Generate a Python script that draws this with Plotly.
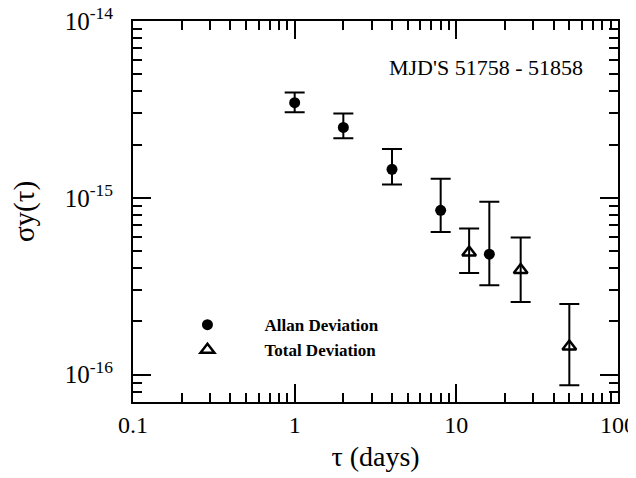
import plotly.graph_objects as go

# --- data ---
allan_tau = [1, 2, 4, 8, 16]
allan_sigma = [3.45e-15, 2.50e-15, 1.45e-15, 8.5e-16, 4.8e-16]
allan_upper = [3.94e-15, 3.00e-15, 1.89e-15, 1.28e-15, 9.5e-16]
allan_lower = [3.05e-15, 2.17e-15, 1.19e-15, 6.4e-16, 3.2e-16]

total_tau = [12, 25, 50]
total_sigma = [4.9e-16, 3.9e-16, 1.44e-16]
total_upper = [6.7e-16, 5.97e-16, 2.51e-16]
total_lower = [3.75e-16, 2.57e-16, 8.7e-17]

x_tickvals = [0.1, 1, 10, 100]
x_ticktext = ["0.1", "1", "10", "100"]
y_tickvals = [1e-16, 1e-15, 1e-14]
y_ticktext = ["10<sup>-16</sup>", "10<sup>-15</sup>", "10<sup>-14</sup>"]

x_minor = [k * 10.0 ** n for n in (-1, 0, 1) for k in range(2, 10)]
y_minor = [k * 10.0 ** n for n in (-17, -16, -15) for k in range(2, 10)]

serif = "Liberation Serif, Times New Roman, serif"

def errs(vals, up, lo):
    return [u - v for u, v in zip(up, vals)], [v - l for v, l in zip(vals, lo)]

a_plus, a_minus = errs(allan_sigma, allan_upper, allan_lower)
t_plus, t_minus = errs(total_sigma, total_upper, total_lower)

fig = go.Figure()
fig.add_trace(go.Scatter(
    x=allan_tau, y=allan_sigma, mode="markers", name="Allan Deviation",
    marker=dict(symbol="circle", size=11, color="black"),
    error_y=dict(type="data", symmetric=False, array=a_plus, arrayminus=a_minus,
                 color="black", thickness=2, width=10),
))
fig.add_trace(go.Scatter(
    x=total_tau, y=total_sigma, mode="markers", name="Total Deviation",
    marker=dict(symbol="triangle-up-open", size=12, color="black",
                line=dict(width=2.5, color="black")),
    error_y=dict(type="data", symmetric=False, array=t_plus, arrayminus=t_minus,
                 color="black", thickness=2, width=10),
))

axis_common = dict(
    showgrid=False, zeroline=False, showline=True, linecolor="black", linewidth=2,
    mirror="ticks", ticks="inside", ticklen=18, tickwidth=2, tickcolor="black",
    automargin=False, ticklabeloverflow="allow",
)

minor_common = dict(tickmode="array", ticks="inside", ticklen=9, tickwidth=2,
                    tickcolor="black", showgrid=False)

fig.update_xaxes(
    type="log", range=[-1, 2], tickmode="array", tickvals=x_tickvals, ticktext=x_ticktext,
    tickfont=dict(family=serif, size=24, color="black"),
    minor=dict(tickvals=x_minor, **minor_common),
    title=dict(text="τ (days)", font=dict(family=serif, size=28, color="black"),
               standoff=10),
    **axis_common,
)
fig.update_yaxes(
    type="log", range=[-16.155, -14], tickmode="array", tickvals=y_tickvals, ticktext=y_ticktext,
    tickfont=dict(family=serif, size=25, color="black"),
    minor=dict(tickvals=y_minor, **minor_common),
    title=dict(text="σy(τ)", font=dict(family=serif, size=29, color="black"),
               standoff=30),
    ticklabelstandoff=13,
    **axis_common,
)

fig.add_annotation(
    text="MJD'S 51758 - 51858", xref="paper", yref="paper",
    x=0.932, y=0.879, xanchor="right", yanchor="middle", showarrow=False,
    font=dict(family=serif, size=22, color="black"),
)

# the page body adds an 8px offset; size and margins compensate for it
fig.update_layout(
    width=628, height=470,
    margin=dict(l=125, r=18, t=13, b=76, autoexpand=False),
    paper_bgcolor="white", plot_bgcolor="white",
    showlegend=True,
    legend=dict(x=0.036, y=0.249, xanchor="left", yanchor="top",
                bgcolor="rgba(0,0,0,0)", itemwidth=104,
                font=dict(family=serif, size=17, color="black", weight="bold"),
                tracegroupgap=0),
)

fig.write_html("out.html")
